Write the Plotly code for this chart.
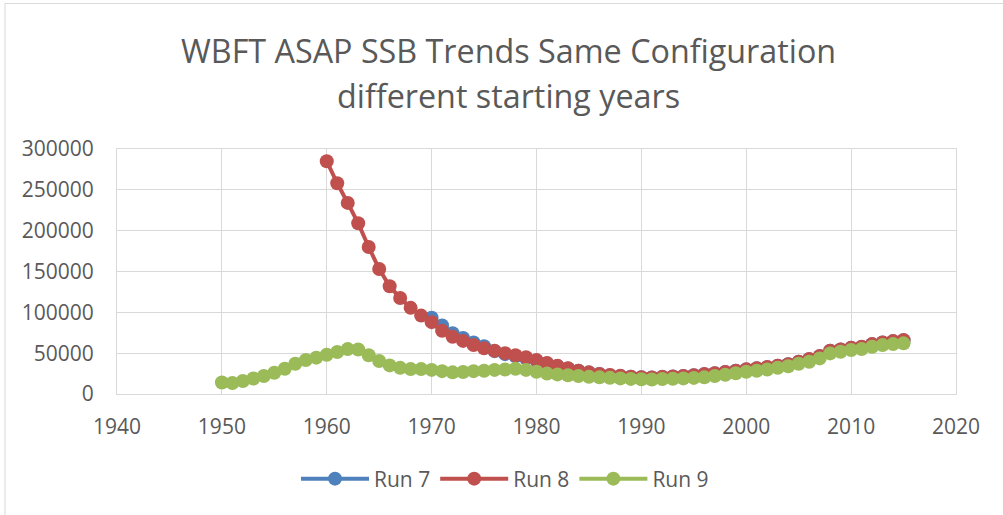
import plotly.graph_objects as go

# ---- data ----
years_run7 = list(range(1970, 2016))
ssb_run7 = [93500, 84000, 74500, 68500, 63000, 58500, 52500, 48800, 46200, 43800,
            40800, 37500, 34300, 31300, 28400, 26400, 24400, 23100, 22100, 21100,
            20400, 20200, 20900, 21400, 21900, 22900, 24300, 25400, 26900, 28400,
            30100, 31400, 32900, 34500, 36400, 39400, 42700, 46300, 52900, 54500,
            56500, 57700, 61000, 63100, 64700, 65900]

years_run8 = list(range(1960, 2016))
ssb_run8 = [285000, 258000, 234000, 209000, 180000, 153000, 132000, 117500, 105500, 96000,
            88000, 77500, 70000, 65000, 60000, 56000, 53000, 50000, 47500, 45000,
            41500, 38000, 34500, 31500, 28500, 26500, 24500, 23200, 22200, 21200,
            20500, 20300, 21000, 21500, 22000, 23000, 24400, 25500, 27000, 28500,
            30200, 31500, 33000, 34600, 36500, 39500, 42800, 46400, 53000, 54600,
            56600, 57800, 61100, 63200, 64800, 66000]

years_run9 = list(range(1950, 2016))
ssb_run9 = [14000, 13500, 16000, 19000, 22000, 26000, 31000, 37000, 41500, 44500,
            48000, 51500, 55000, 54500, 47500, 40500, 35000, 32000, 30500, 30500,
            29500, 28000, 26500, 27000, 28000, 28500, 29500, 30000, 31000, 29500,
            27300, 25000, 24000, 23000, 22000, 21000, 20400, 19800, 19100, 18500,
            18000, 17800, 18300, 18700, 19100, 19700, 20400, 22000, 23500, 25500,
            27300, 28500, 30000, 32200, 34000, 37000, 39500, 43600, 49700, 51700,
            53800, 55000, 57800, 59900, 61100, 62000]

series_names = ["Run 7", "Run 8", "Run 9"]
series_colors = ["#4F81BD", "#C0504D", "#9BBB59"]
x_ticks = [1940, 1950, 1960, 1970, 1980, 1990, 2000, 2010, 2020]
y_ticks = [0, 50000, 100000, 150000, 200000, 250000, 300000]
title_lines = ["WBFT ASAP SSB Trends Same Configuration", "different starting years"]

FONT = "Open Sans"
TXT = "#595959"
GRID = "#D9D9D9"

fig = go.Figure()
for name, xs, ys, col in zip(series_names,
                             [years_run7, years_run8, years_run9],
                             [ssb_run7, ssb_run8, ssb_run9],
                             series_colors):
    fig.add_trace(go.Scatter(
        x=xs, y=ys, name=name, mode="lines+markers",
        line=dict(color=col, width=4),
        marker=dict(color=col, size=14, line=dict(width=0)),
    ))

# plot area: x 117..956, y 149..394
def py(pix):
    return (394 - pix) / 245.0

annotations = [
    dict(text=title_lines[0], xref="paper", yref="paper", x=(508 - 117) / 839, y=py(50),
         xanchor="center", yanchor="middle", showarrow=False,
         font=dict(family=FONT, size=32.3, color=TXT)),
    dict(text=title_lines[1], xref="paper", yref="paper", x=(508 - 117) / 839, y=py(95),
         xanchor="center", yanchor="middle", showarrow=False,
         font=dict(family=FONT, size=32.3, color=TXT)),
]

fig.update_layout(
    width=1003, height=515,
    margin=dict(l=117, r=47, t=149, b=121, autoexpand=False),
    paper_bgcolor="white", plot_bgcolor="white",
    font=dict(family=FONT, color=TXT, size=21),
    annotations=annotations,
    showlegend=True,
    legend=dict(orientation="h", x=(505 - 117) / 839, xanchor="center", y=py(479), yanchor="middle",
                font=dict(family=FONT, size=21, color=TXT), itemwidth=68,
                traceorder="normal"),
    xaxis=dict(range=[1940, 2020], tickvals=x_ticks, showgrid=True, gridcolor=GRID,
               gridwidth=1, showline=True, linecolor=GRID, linewidth=1, mirror=True,
               zeroline=False, ticks="", ticklabelstandoff=14, automargin=False,
               tickfont=dict(family=FONT, size=21, color=TXT)),
    yaxis=dict(range=[0, 300000], tickvals=y_ticks, showgrid=True, gridcolor=GRID,
               gridwidth=1, showline=True, linecolor=GRID, linewidth=1, mirror=True,
               zeroline=False, ticks="", ticklabelstandoff=18, automargin=False,
               tickformat="d", tickfont=dict(family=FONT, size=21, color=TXT)),
    shapes=[dict(type="rect", xref="paper", yref="paper",
                 x0=-0.1335, x1=1.07, y0=-0.52, y1=py(3.5),
                 line=dict(color=GRID, width=1), fillcolor="rgba(0,0,0,0)",
                 layer="below")],
)

fig.write_html("out.html", config={"displayModeBar": False},
               post_script="document.body.style.margin='0px';document.body.style.overflow='hidden';")
